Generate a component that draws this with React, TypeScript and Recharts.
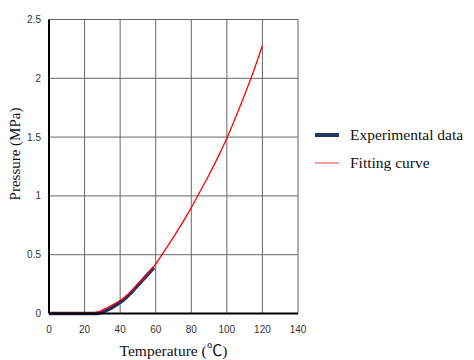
import { CartesianGrid, Label, Legend, Line, LineChart, XAxis, YAxis } from 'recharts';

const X_TICKS = [0, 20, 40, 60, 80, 100, 120, 140];
const Y_TICKS = [0, 0.5, 1, 1.5, 2, 2.5];

const expTemp = [0, 5, 10, 15, 20, 25, 28, 30, 33, 36, 40, 43, 46, 50, 53, 56, 59];
const expPressure = [0, 0, 0, 0, 0, 0, 0.003, 0.012, 0.03, 0.055, 0.095, 0.13, 0.175, 0.24, 0.29, 0.34, 0.39];

const fitTemp = [0, 5, 10, 15, 20, 23, 25, 28, 30, 33, 36, 40, 45, 50, 55, 60, 65, 70, 75, 80, 85, 90, 95, 100, 105, 110, 115, 120];
const fitPressure = [0, 0, 0, 0, 0, 0, 0.005, 0.015, 0.028, 0.05, 0.075, 0.11, 0.17, 0.25, 0.33, 0.42, 0.535, 0.65, 0.77, 0.9, 1.04, 1.18, 1.33, 1.49, 1.67, 1.86, 2.06, 2.28];

const expData = expTemp.map((t, i) => ({ t, p: expPressure[i] }));
const fitData = fitTemp.map((t, i) => ({ t, p: fitPressure[i] }));

const SERIF = '"Liberation Serif", "Times New Roman", "Noto Sans CJK SC", serif';
const NAVY = '#1F3068';
const RED = '#FF0000';

const LEGEND_STYLE: Record<string, { width: number; color: string }> = {
  'Experimental data': { width: 4, color: '#1F3864' },
  'Fitting curve': { width: 1, color: '#E84040' }
};

function LegendBox({ payload }: { payload?: Array<{ value: string }> }) {
  return (
    <div style={{ fontFamily: SERIF, fontSize: 15.5, color: '#111' }}>
      {(payload ?? []).map((item) => {
        const s = LEGEND_STYLE[item.value];
        return (
          <div key={item.value} style={{ display: 'flex', alignItems: 'center', height: 28 }}>
            <svg width={40} height={10}>
              <line x1={5} x2={29} y1={5} y2={5} stroke={s.color} strokeWidth={s.width} />
            </svg>
            <span>{item.value}</span>
          </div>
        );
      })}
    </div>
  );
}

export default function App() {
  const tick = { fontSize: 10, fill: '#333', fontFamily: '"Liberation Sans", Arial, sans-serif' };
  return (
    <div style={{ position: 'absolute', left: 0, top: 0, background: '#fff' }}>
      <LineChart width={474} height={360} margin={{ top: 19.5, right: 176, bottom: 0, left: 0 }}>
        <CartesianGrid stroke="#666" strokeWidth={1} />
        <XAxis
          type="number"
          dataKey="t"
          domain={[0, 140]}
          ticks={X_TICKS}
          height={46.5}
          tick={tick}
          tickLine={false}
          tickMargin={6}
          axisLine={{ stroke: '#000', strokeWidth: 2 }}
          allowDuplicatedCategory={false}
        >
          <Label value="Temperature (℃)" position="insideBottom" offset={4} style={{ fontFamily: SERIF, fontSize: 15.5, fill: '#111' }} />
        </XAxis>
        <YAxis
          type="number"
          domain={[0, 2.5]}
          ticks={Y_TICKS}
          width={49}
          tick={tick}
          tickLine={false}
          axisLine={{ stroke: '#000', strokeWidth: 2 }}
        >
          <Label
            content={() => (
              <text x={15} y={154} transform="rotate(-90 15 154)" textAnchor="middle" dominantBaseline="central" style={{ fontFamily: SERIF, fontSize: 15, fill: '#111' }}>
                Pressure (MPa)
              </text>
            )}
          />
        </YAxis>
        <Legend
          layout="vertical"
          align="center"
          verticalAlign="middle"
          content={(props) => <LegendBox payload={props.payload as Array<{ value: string }>} />}
          wrapperStyle={{ left: 310, top: 121, width: 164 }}
        />
        <Line data={expData} dataKey="p" name="Experimental data" type="monotone" stroke={NAVY} strokeWidth={3.5} dot={false} isAnimationActive={false} />
        <Line data={fitData} dataKey="p" name="Fitting curve" type="monotone" stroke={RED} strokeWidth={1.3} dot={false} isAnimationActive={false} />
      </LineChart>
    </div>
  );
}
